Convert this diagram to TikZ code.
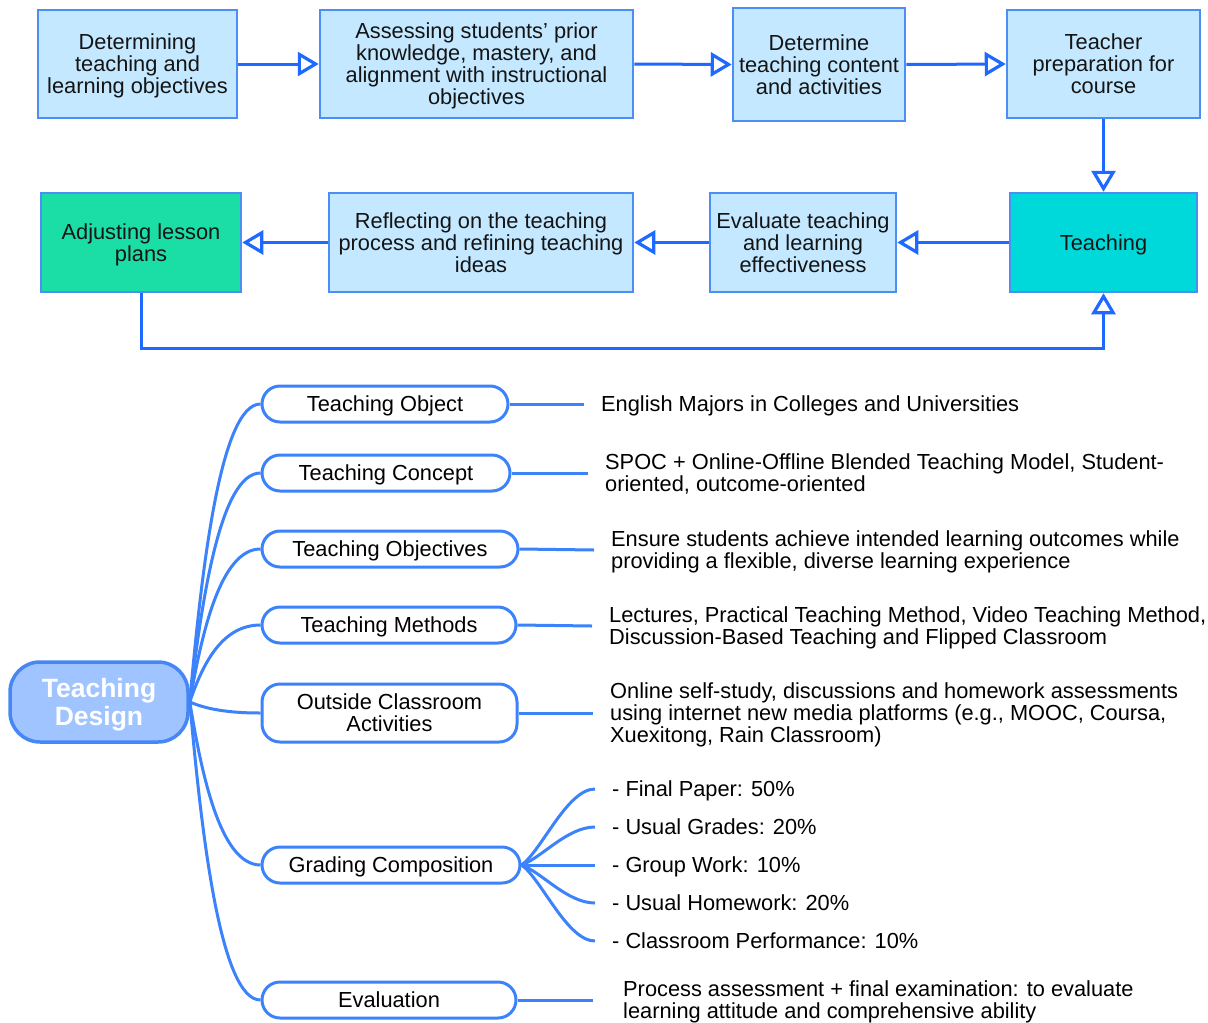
\documentclass[tikz,border=0pt]{standalone}
\usepackage{fontspec}
\setmainfont{Liberation Sans}
\usetikzlibrary{arrows.meta,calc}
\definecolor{boxfill}{RGB}{196,232,255}
\definecolor{boxline}{RGB}{75,142,245}
\definecolor{arrowblue}{RGB}{30,105,255}
\definecolor{tealfill}{RGB}{0,217,217}
\definecolor{greenfill}{RGB}{27,222,166}
\definecolor{rootfill}{RGB}{160,196,255}
\definecolor{rootline}{RGB}{70,135,245}
\definecolor{mmblue}{RGB}{60,130,250}
\definecolor{txt}{RGB}{20,20,20}
\begin{document}
\begin{tikzpicture}[x=1pt,y=-1pt,
  flowbox/.style={draw=boxline, line width=2.5pt, fill=boxfill, inner sep=0pt,
    align=center, text=txt, text depth=0pt, font=\fontsize{21.8}{22}\selectfont},
  arr/.style={draw=arrowblue, line width=3pt,
    -{Triangle[open, fill=white, length=21pt, width=24pt, line width=3.2pt]}},
  mmroot/.style={draw=rootline, line width=3.5pt, fill=rootfill, rounded corners=30pt,
    minimum width=178pt, minimum height=80pt, inner sep=0pt, align=center,
    text=white, text depth=0pt, font=\fontsize{26.5}{28}\selectfont\bfseries},
  mmnode/.style={draw=mmblue, line width=3pt, fill=white, rounded corners=18pt,
    minimum height=36pt, inner sep=0pt, align=center, text=black, text depth=0pt,
    font=\fontsize{21.8}{22}\selectfont},
  mmline/.style={draw=mmblue, line width=3pt},
  desc/.style={anchor=west, inner xsep=17pt, inner ysep=0pt, align=left, text=black,
    text depth=0pt, font=\fontsize{21.8}{22}\selectfont}
]
\useasboundingbox (0,0) rectangle (1208,1023);

% ---------- flow chart ----------
\node[flowbox, minimum width=199pt, minimum height=108pt] (a) at (137.5,64)
  {Determining\\teaching and\\learning objectives};
\node[flowbox, minimum width=313pt, minimum height=108pt] (b) at (476.5,64)
  {Assessing students' prior\\knowledge, mastery, and\\alignment with instructional\\objectives};
\node[flowbox, minimum width=172pt, minimum height=113pt] (c) at (819,64.5)
  {Determine\\teaching content\\and activities};
\node[flowbox, minimum width=193pt, minimum height=108pt] (d) at (1103.5,64)
  {Teacher\\preparation for\\course};
\node[flowbox, fill=tealfill, minimum width=187pt, minimum height=99pt] (teach) at (1103.5,242.5)
  {Teaching};
\node[flowbox, minimum width=186pt, minimum height=99pt] (eval) at (803,242.5)
  {Evaluate teaching\\and learning\\effectiveness};
\node[flowbox, minimum width=304pt, minimum height=99pt] (refl) at (481,242.5)
  {Reflecting on the teaching\\process and refining teaching\\ideas};
\node[flowbox, fill=greenfill, minimum width=200pt, minimum height=99pt] (adj) at (141,242.5)
  {Adjusting lesson\\plans};

\draw[arr] (a.east) -- (b.west);
\draw[arr] (b.east) -- (c.west);
\draw[arr] (c.east) -- (d.west);
\draw[arr] (d.south) -- (teach.north);
\draw[arr] (teach.west) -- (eval.east);
\draw[arr] (eval.west) -- (refl.east);
\draw[arr] (refl.west) -- (adj.east);
\draw[arr] (adj.south) -- ++(0,55) -| (teach.south);

% ---------- mind map ----------
\node[mmroot] (root) at (99,702) {Teaching\\Design};

\node[mmnode, minimum width=246pt] (obj) at (385,404) {Teaching Object};
\node[mmnode, minimum width=248pt] (con) at (386,473) {Teaching Concept};
\node[mmnode, minimum width=256pt] (objv) at (390,549) {Teaching Objectives};
\node[mmnode, minimum width=254pt] (meth) at (389,625) {Teaching Methods};
\node[mmnode, minimum width=255pt, minimum height=58pt] (out) at (389.5,713) {Outside Classroom\\Activities};
\node[mmnode, minimum width=258pt] (grad) at (391,865) {Grading Composition};
\node[mmnode, minimum width=254pt] (ev) at (389,1000) {Evaluation};

\draw[mmline] (root.east) .. controls +(12,-134) and +(-40,0) .. (obj.west);
\draw[mmline] (root.east) .. controls +(12,-103) and +(-40,0) .. (con.west);
\draw[mmline] (root.east) .. controls +(12,-69) and +(-40,0) .. (objv.west);
\draw[mmline] (root.east) .. controls +(12,-35) and +(-40,0) .. (meth.west);
\draw[mmline] (root.east) .. controls +(12,5) and +(-40,0) .. (out.west);
\draw[mmline] (root.east) .. controls +(12,73) and +(-40,0) .. (grad.west);
\draw[mmline] (root.east) .. controls +(12,134) and +(-40,0) .. (ev.west);

\node[desc] (objt) at (584,404) {English Majors in Colleges and Universities};
\node[desc] (cont) at (588,473) {SPOC + Online-Offline Blended Teaching Model, Student-\\oriented, outcome-oriented};
\node[desc] (objvt) at (594,550) {Ensure students achieve intended learning outcomes while\\providing a flexible, diverse learning experience};
\node[desc] (metht) at (592,626) {Lectures, Practical Teaching Method, Video Teaching Method,\\Discussion-Based Teaching and Flipped Classroom};
\node[desc] (outt) at (593,713) {Online self-study, discussions and homework assessments\\using internet new media platforms (e.g., MOOC, Coursa,\\Xuexitong, Rain Classroom)};
\node[desc, inner xsep=30pt] (evt) at (593,1000) {Process assessment + final examination: to evaluate\\learning attitude and comprehensive ability};

\draw[mmline] (obj.east) -- (objt.west);
\draw[mmline] (con.east) -- (cont.west);
\draw[mmline] (objv.east) -- (objvt.west);
\draw[mmline] (meth.east) -- (metht.west);
\draw[mmline] (out.east) -- (outt.west);
\draw[mmline] (ev.east) -- (evt.west);

\node[desc] (g1) at (595,789) {- Final Paper: 50\%};
\node[desc] (g2) at (595,827) {- Usual Grades: 20\%};
\node[desc] (g3) at (595,865) {- Group Work: 10\%};
\node[desc] (g4) at (595,903) {- Usual Homework: 20\%};
\node[desc] (g5) at (595,941) {- Classroom Performance: 10\%};

\draw[mmline] (grad.east) .. controls +(20,-14) and +(-28,0) .. (g1.west);
\draw[mmline] (grad.east) .. controls +(20,-7) and +(-28,0) .. (g2.west);
\draw[mmline] (grad.east) -- (g3.west);
\draw[mmline] (grad.east) .. controls +(20,7) and +(-28,0) .. (g4.west);
\draw[mmline] (grad.east) .. controls +(20,14) and +(-28,0) .. (g5.west);
\end{tikzpicture}
\end{document}
